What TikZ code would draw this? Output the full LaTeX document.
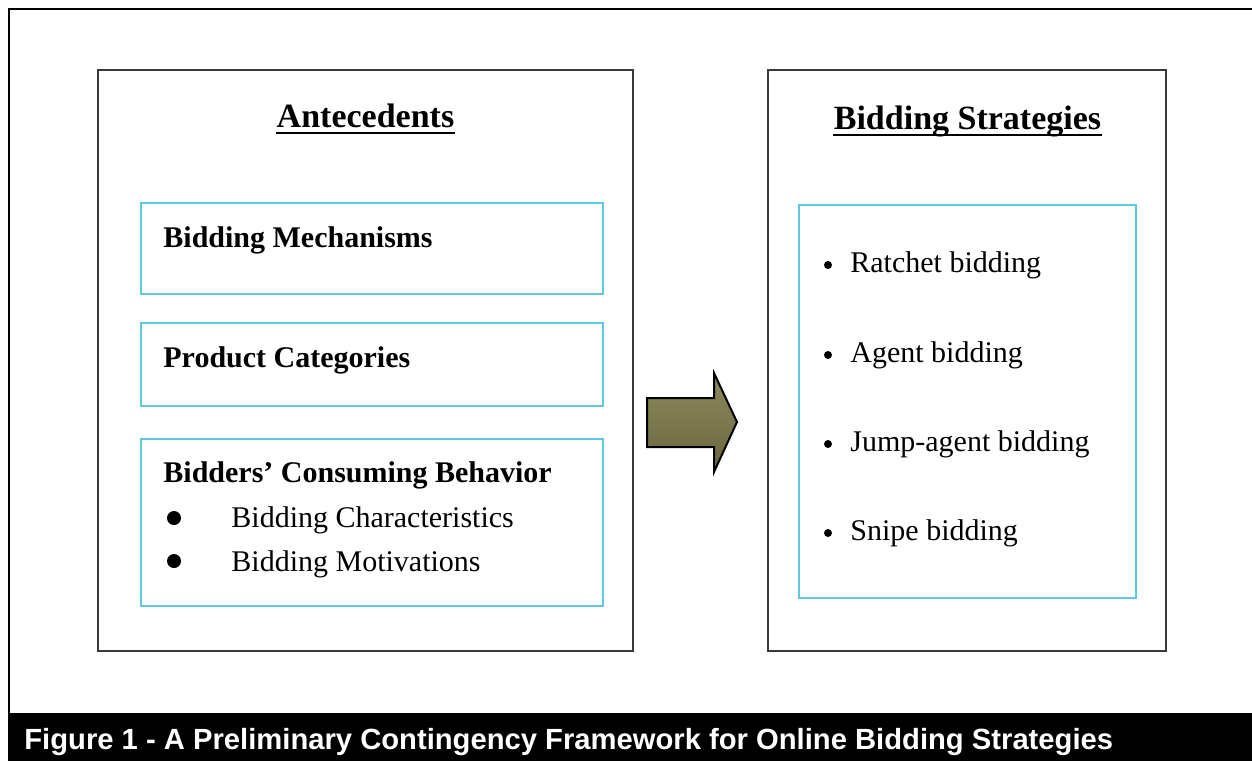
\documentclass[tikz,border=0pt]{standalone}
\usepackage{fontspec}
\setmainfont{Liberation Serif}
\newfontfamily\capfont{Liberation Sans}
\begin{document}
\begin{tikzpicture}[x=0.5pt,y=-0.5pt,
  bigbox/.style={draw=boxgray,line width=1pt},
  cybox/.style={draw=cyanbox,line width=1pt},
  ttl/.style={inner sep=0pt,anchor=base,font=\fontsize{17}{20}\selectfont\bfseries},
  hd/.style={inner sep=0pt,anchor=base west,font=\fontsize{15}{18}\selectfont\bfseries},
  item/.style={inner sep=0pt,anchor=base west,font=\fontsize{15}{18}\selectfont},
  bigdot/.style={circle,fill=black,inner sep=0pt,minimum size=7pt},
  smalldot/.style={circle,fill=black,inner sep=0pt,minimum size=4pt},
  uline/.style={line width=0.9pt}]
\definecolor{boxgray}{HTML}{3A3A3A}
\definecolor{cyanbox}{HTML}{5CC9DE}
\definecolor{olivetop}{HTML}{8E8A5E}
\definecolor{olivebot}{HTML}{69663F}
\useasboundingbox (0,0) rectangle (1252,761);
% outer frame and caption bar
\draw[line width=1.2pt] (9,713) -- (9,9) -- (1253,9);
\fill[black] (8,713) rectangle (1252,761);
\node[inner sep=0pt,anchor=base west,text=white,font=\capfont\fontsize{14.6}{17}\selectfont\bfseries] (cap) at (24,749.5)
  {Figure 1 - A Preliminary Contingency Framework for Online Bidding Strategies};
% big boxes
\draw[bigbox] (98,70) rectangle (633,651);
\draw[bigbox] (768,70) rectangle (1166,651);
% titles
\node[ttl] (t1) at (365.5,127) {Antecedents};
\draw[uline] ([yshift=-3pt]t1.base west) -- ([yshift=-3pt]t1.base east);
\node[ttl] (t2) at (967.5,129) {Bidding Strategies};
\draw[uline] ([yshift=-3pt]t2.base west) -- ([yshift=-3pt]t2.base east);
% left inner boxes
\draw[cybox] (141,203) rectangle (603,294);
\draw[cybox] (141,323) rectangle (603,406);
\draw[cybox] (141,439) rectangle (603,606);
\node[hd] (h1) at (163,247) {Bidding Mechanisms};
\node[hd] (h2) at (163,367) {Product Categories};
\node[hd] (h3) at (163,482) {Bidders’ Consuming Behavior};
\node[bigdot] (d1) at (174,518) {};
\node[item] (i1) at (231,527) {Bidding Characteristics};
\node[bigdot] (d2) at (174,561) {};
\node[item] (i2) at (231,571) {Bidding Motivations};
% arrow
\shade[top color=olivetop,bottom color=olivebot,draw=black,line width=1pt,line join=miter]
  (647,398) -- (714,398) -- (714,373) -- (737,422) -- (714,472) -- (714,447) -- (647,447) -- cycle;
% right inner box
\draw[cybox] (799,205) rectangle (1136,598);
\node[smalldot] (s1) at (828,265) {};
\node[item] (r1) at (850,272) {Ratchet bidding};
\node[smalldot] (s2) at (828,355) {};
\node[item] (r2) at (850,362) {Agent bidding};
\node[smalldot] (s3) at (828,444) {};
\node[item] (r3) at (850,451) {Jump-agent bidding};
\node[smalldot] (s4) at (828,533) {};
\node[item] (r4) at (850,540) {Snipe bidding};
\end{tikzpicture}
\end{document}
